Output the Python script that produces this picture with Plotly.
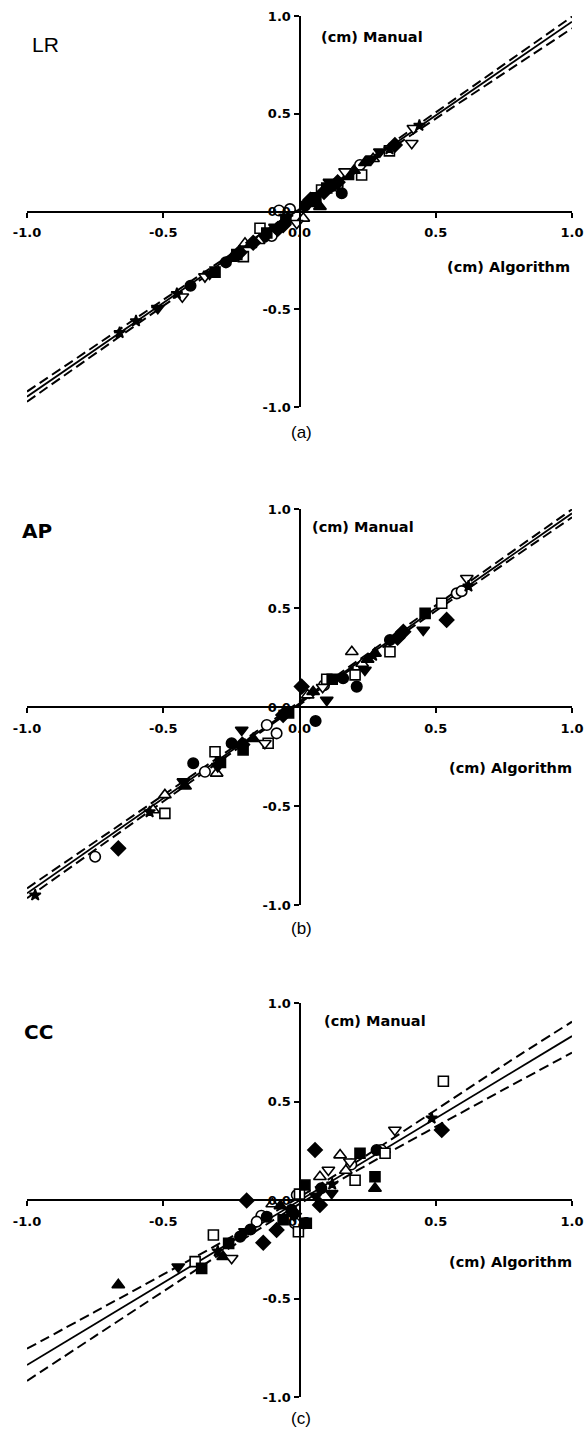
import plotly.graph_objects as go

W, H = 588, 1429

# ---------------- data ----------------
# series id: 1 open circle, 2 filled circle, 3 open square, 4 filled square,
# 5 open triangle-up, 6 filled triangle-up, 7 open triangle-down,
# 8 filled triangle-down, 9 filled diamond, 10 star

# Panel (a) LR
lr_x = [0.222, -0.035, -0.075, -0.102, 0.14,
        0.155, 0.12, -0.13, -0.27, 0.02, -0.40,
        0.228, 0.081, -0.145, -0.206, 0.33,
        0.10, -0.31, -0.12, 0.18, -0.05, 0.06, -0.23,
        0.014, -0.20, 0.27, -0.15,
        0.075, 0.05, -0.25, 0.20, -0.18, 0.24,
        0.418, 0.412, 0.167, -0.347, -0.43, -0.01,
        0.295, 0.265, -0.52, 0.11, -0.09, -0.33,
        0.04, -0.17, 0.14, -0.06, 0.35, -0.22, 0.09, -0.08,
        0.44, -0.60, -0.66, 0.33, -0.45]
lr_y = [0.238, 0.012, 0.005, -0.125, 0.13,
        0.093, 0.13, -0.13, -0.26, 0.03, -0.38,
        0.187, 0.110, -0.086, -0.231, 0.31,
        0.12, -0.31, -0.11, 0.19, -0.04, 0.07, -0.22,
        -0.035, -0.163, 0.27, -0.15,
        0.025, 0.04, -0.24, 0.21, -0.17, 0.25,
        0.426, 0.349, 0.204, -0.333, -0.436, -0.06,
        0.306, 0.27, -0.495, 0.15, -0.08, -0.32,
        0.06, -0.16, 0.15, -0.07, 0.34, -0.21, 0.10, -0.09,
        0.44, -0.56, -0.62, 0.32, -0.42]
lr_id = [1, 1, 1, 1, 1,
         2, 2, 2, 2, 2, 2,
         3, 3, 3, 3, 3,
         4, 4, 4, 4, 4, 4, 4,
         5, 5, 5, 5,
         6, 6, 6, 6, 6, 6,
         7, 7, 7, 7, 7, 7,
         8, 8, 8, 8, 8, 8,
         9, 9, 9, 9, 9, 9, 9, 9,
         10, 10, 10, 10, 10]
lr_fit_x = [-1.0, 1.0]
lr_fit_y = [-0.947, 0.971]
lr_band_x = [-1.0, -0.5, 0.0, 0.5, 1.0]
lr_upper = [-0.921, -0.452, 0.020, 0.507, 0.997]
lr_lower = [-0.973, -0.483, 0.004, 0.475, 0.937]

# Panel (b) AP
ap_x = [0.577, 0.595, -0.12, -0.084, -0.347, -0.75, 0.09,
        0.059, 0.21, 0.332, -0.249, -0.39, 0.16,
        0.522, 0.332, 0.204, -0.115, -0.31, -0.494, 0.10,
        0.461, -0.207, 0.12, -0.04, -0.29,
        0.192, -0.304, -0.494, -0.537, 0.23, 0.03,
        0.277, 0.05, -0.42, 0.25, -0.17,
        0.614, -0.127, 0.085,
        0.454, 0.24, -0.426, -0.212, 0.10, -0.30,
        0.54, 0.381, 0.008, -0.665, 0.36, -0.21, -0.06,
        -0.97, 0.62, 0.27, -0.55]
ap_y = [0.574, 0.585, -0.091, -0.133, -0.327, -0.756, 0.11,
        -0.071, 0.103, 0.338, -0.183, -0.284, 0.145,
        0.524, 0.279, 0.162, -0.183, -0.226, -0.537, 0.14,
        0.473, -0.217, 0.14, -0.03, -0.28,
        0.279, -0.335, -0.444, -0.52, 0.22, 0.06,
        0.271, 0.077, -0.40, 0.24, -0.16,
        0.650, -0.183, 0.10,
        0.389, 0.187, -0.377, -0.116, 0.035, -0.30,
        0.44, 0.38, 0.103, -0.714, 0.35, -0.19, -0.04,
        -0.95, 0.61, 0.26, -0.53]
ap_id = [1, 1, 1, 1, 1, 1, 1,
         2, 2, 2, 2, 2, 2,
         3, 3, 3, 3, 3, 3, 3,
         4, 4, 4, 4, 4,
         5, 5, 5, 5, 5, 5,
         6, 6, 6, 6, 6,
         7, 7, 7,
         8, 8, 8, 8, 8, 8,
         9, 9, 9, 9, 9, 9, 9,
         10, 10, 10, 10]
ap_fit_x = [-1.0, 1.0]
ap_fit_y = [-0.941, 0.978]
ap_band_x = [-1.0, -0.5, 0.0, 0.5, 1.0]
ap_upper = [-0.916, -0.445, 0.027, 0.513, 0.998]
ap_lower = [-0.966, -0.477, 0.011, 0.485, 0.958]

# Panel (c) CC
cc_x = [0.30, -0.01, -0.017, -0.14, 0.19, -0.157,
        0.02, -0.218, -0.12, -0.03, 0.283, 0.08, -0.18,
        0.528, 0.314, 0.204, -0.004, -0.316, -0.383, 0.0,
        0.222, 0.277, 0.02, -0.359, 0.025, -0.06, -0.26,
        0.149, 0.075, -0.10, 0.17,
        0.277, -0.665, -0.28, -0.07,
        0.35, 0.106, -0.249, 0.185,
        0.118, -0.445, 0.06, -0.20,
        -0.194, 0.057, 0.522, -0.133, -0.084, 0.075, -0.02,
        0.485, -0.30, 0.12]
cc_y = [0.254, 0.025, -0.118, -0.08, 0.18, -0.11,
        -0.118, -0.186, -0.085, -0.05, 0.254, 0.06, -0.15,
        0.603, 0.237, 0.10, -0.161, -0.178, -0.313, 0.03,
        0.237, 0.118, 0.076, -0.347, -0.118, -0.10, -0.22,
        0.228, 0.118, -0.02, 0.15,
        0.059, -0.431, -0.288, -0.03,
        0.355, 0.152, -0.296, 0.194,
        0.034, -0.339, 0.02, -0.16,
        -0.003, 0.254, 0.355, -0.217, -0.152, -0.025, -0.07,
        0.415, -0.26, 0.08]
cc_id = [1, 1, 1, 1, 1, 1,
         2, 2, 2, 2, 2, 2, 2,
         3, 3, 3, 3, 3, 3, 3,
         4, 4, 4, 4, 4, 4, 4,
         5, 5, 5, 5,
         6, 6, 6, 6,
         7, 7, 7, 7,
         8, 8, 8, 8,
         9, 9, 9, 9, 9, 9, 9,
         10, 10, 10]
cc_fit_x = [-1.0, 1.0]
cc_fit_y = [-0.838, 0.832]
cc_band_x = [-1.0, -0.75, -0.5, -0.25, 0.0, 0.25, 0.5, 0.75, 1.0]
cc_upper = [-0.755, -0.567, -0.378, -0.187, 0.015, 0.230, 0.457, 0.685, 0.905]
cc_lower = [-0.918, -0.691, -0.464, -0.238, -0.020, 0.180, 0.372, 0.561, 0.748]

tick_vals = [-1.0, -0.5, 0.0, 0.5, 1.0]
tick_text = ["-1.0", "-0.5", "0.0", "0.5", "1.0"]
panel_names = ["LR", "AP", "CC"]
panel_tags = ["(a)", "(b)", "(c)"]
x_title = "(cm) Algorithm"
y_title = "(cm) Manual"

# ---------------- styling ----------------
STYLE = {
    1: ("circle", "white", 10.5),
    2: ("circle", "black", 10.5),
    3: ("square", "white", 10),
    4: ("square", "black", 10),
    5: ("triangle-up", "white", 11),
    6: ("triangle-up", "black", 11),
    7: ("triangle-down", "white", 11),
    8: ("triangle-down", "black", 11),
    9: ("diamond", "black", 11),
    10: ("star", "black", 8.5),
}


def fx(px):
    return px / W


def fy(py):
    return 1 - py / H


X_LEFT, X_RIGHT = 27, 572
PANELS_PX = [(16, 407), (509, 905), (1003, 1397)]

panels = [
    (lr_x, lr_y, lr_id, lr_fit_x, lr_fit_y, lr_band_x, lr_upper, lr_lower),
    (ap_x, ap_y, ap_id, ap_fit_x, ap_fit_y, ap_band_x, ap_upper, ap_lower),
    (cc_x, cc_y, cc_id, cc_fit_x, cc_fit_y, cc_band_x, cc_upper, cc_lower),
]

fig = go.Figure()
tickfont = dict(family="DejaVu Sans", size=13, color="black", weight="bold")
layout_axes = {}
annotations = []

for i, (px_, py_, pid, fxv, fyv, bx, bu, bl) in enumerate(panels):
    n = "" if i == 0 else str(i + 1)
    xa, ya = "x" + n, "y" + n
    top, bot = PANELS_PX[i]
    mid = (top + bot) / 2
    # lines
    for band in (bu, bl):
        fig.add_trace(go.Scatter(x=bx, y=band, mode="lines", xaxis=xa, yaxis=ya,
                                 line=dict(color="black", width=2, dash="10px,5px", shape="spline"),
                                 hoverinfo="skip"))
    fig.add_trace(go.Scatter(x=fxv, y=fyv, mode="lines", xaxis=xa, yaxis=ya,
                             line=dict(color="black", width=1.8)))
    # markers
    fig.add_trace(go.Scatter(
        x=px_, y=py_, mode="markers", xaxis=xa, yaxis=ya,
        marker=dict(symbol=[STYLE[k][0] for k in pid],
                    color=[STYLE[k][1] for k in pid],
                    size=[STYLE[k][2] for k in pid],
                    opacity=1,
                    line=dict(color="black", width=1.6)),
        cliponaxis=False))

    common = dict(range=[-1, 1], anchor="free", showline=True, linewidth=2,
                  linecolor="black", ticks="outside", ticklen=5, tickwidth=2,
                  tickcolor="black", tickvals=tick_vals, ticktext=tick_text,
                  tickfont=tickfont, showgrid=False, zeroline=False,
                  fixedrange=True, automargin=False)
    layout_axes["xaxis" + n] = dict(domain=[fx(X_LEFT), fx(X_RIGHT)],
                                    position=fy(mid), ticklabelstandoff=4, **common)
    layout_axes["yaxis" + n] = dict(domain=[fy(bot), fy(top)],
                                    position=fx((X_LEFT + X_RIGHT) / 2), **common)

# text annotations
name_pos = [(45, 44), (37, 531), (38, 1032)]
manual_pos = [(319, 37), (310, 527), (322, 1021)]
algo_pos = [(572, 267), (574, 768), (574, 1262)]
tag_pos = [(301, 432), (301, 928), (301, 1418)]
for i in range(3):
    annotations.append(dict(
        text=panel_names[i], x=fx(name_pos[i][0]), y=fy(name_pos[i][1]),
        xref="paper", yref="paper", showarrow=False, xanchor="center", yanchor="middle",
        font=dict(family="Liberation Sans" if i == 0 else "DejaVu Sans", size=21 if i == 0 else 20,
                  color="black", weight="normal" if i == 0 else "bold")))
    annotations.append(dict(
        text=y_title, x=fx(manual_pos[i][0]), y=fy(manual_pos[i][1]),
        xref="paper", yref="paper", showarrow=False, xanchor="left", yanchor="middle",
        font=dict(family="DejaVu Sans", size=14.5, color="black", weight="bold")))
    annotations.append(dict(
        text=x_title, x=fx(algo_pos[i][0]), y=fy(algo_pos[i][1]),
        xref="paper", yref="paper", showarrow=False, xanchor="right", yanchor="middle",
        font=dict(family="DejaVu Sans", size=14.5, color="black", weight="bold")))
    annotations.append(dict(
        text=panel_tags[i], x=fx(tag_pos[i][0]), y=fy(tag_pos[i][1]),
        xref="paper", yref="paper", showarrow=False, xanchor="center", yanchor="middle",
        font=dict(family="Liberation Sans", size=17, color="black")))

fig.update_layout(
    width=W, height=H, margin=dict(l=0, r=0, t=0, b=0, autoexpand=False),
    paper_bgcolor="white", plot_bgcolor="white", showlegend=False,
    annotations=annotations, **layout_axes)

fig.write_html("out.html", config={"displayModeBar": False, "staticPlot": True},
               post_script="document.body.style.margin='0px';document.body.style.overflow='hidden';")
